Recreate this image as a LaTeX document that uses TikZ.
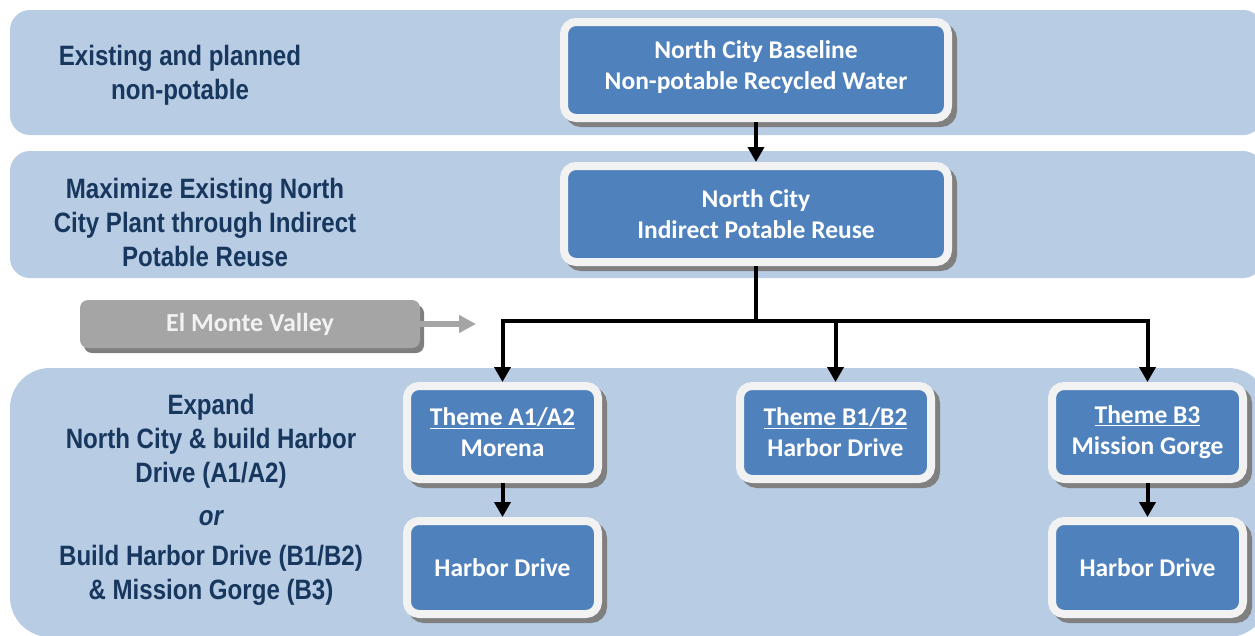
\documentclass[tikz,border=0pt]{standalone}
\usepackage{fontspec}
\newfontfamily\narrowfont[FakeStretch=0.86]{Liberation Sans}
\newfontfamily\boxfont{Carlito}
\usetikzlibrary{positioning,arrows.meta,shadows}
\definecolor{bandblue}{HTML}{B8CCE4}
\definecolor{boxblue}{HTML}{4F81BD}
\definecolor{boxrim}{HTML}{F2F2F2}
\definecolor{shadowgray}{HTML}{808080}
\definecolor{tiertext}{HTML}{17375E}
\definecolor{sidegray}{HTML}{A5A5A5}
\definecolor{sideshadow}{HTML}{7F7F7F}

\begin{document}
\begin{tikzpicture}[
  x=1pt, y=-1pt,
  band/.style={fill=bandblue, rounded corners=20pt},
  tier/.style={font=\narrowfont\bfseries\fontsize{28}{34}\selectfont, text=tiertext, align=center},
  box/.style={draw=boxrim, line width=8pt, fill=boxblue, rounded corners=12pt, text=white, align=center,
    inner sep=0pt, font=\boxfont\bfseries\fontsize{25.5}{31}\selectfont,
    drop shadow={shadow xshift=5pt, shadow yshift=-5pt, fill=shadowgray, draw=shadowgray, line width=8pt, opacity=1}},
  wide/.style={box, minimum width=384pt, minimum height=96pt},
  theme/.style={box, minimum width=191pt, minimum height=93pt},
  side/.style={fill=sidegray, rounded corners=8pt, text=boxrim, inner sep=0pt,
    font=\boxfont\bfseries\fontsize{26}{30}\selectfont, minimum width=340pt, minimum height=48pt,
    drop shadow={shadow xshift=4pt, shadow yshift=-5pt, fill=sideshadow, opacity=1}},
  flow/.style={-{Triangle[length=15pt, width=16pt]}, line width=4pt},
  link/.style={line width=4pt},
  hint/.style={-{Triangle[length=17pt, width=17pt]}, line width=6pt, sidegray}
]
\clip (0,0) rectangle (1255,635);
% ---- Bands ----
\fill[band] (10,10) rectangle (1263,135);
\fill[band] (10,151) rectangle (1263,278);
\fill[band, rounded corners=40pt] (10,368) rectangle (1268,637);
% ---- Tier labels ----
\node[tier] (t1) at (180,75) {Existing and planned\\non-potable};
\node[tier] (t2) at (205,222) {Maximize Existing North\\City Plant through Indirect\\Potable Reuse};
\node[tier] (t3) at (211,500) {Expand\\North City \& build Harbor\\Drive (A1/A2)\\[9pt]
  {\itshape or}\\[6pt]Build Harbor Drive (B1/B2)\\\& Mission Gorge (B3)};
% ---- North City chain ----
\node[wide] (base) at (756,70) {North City Baseline\\Non-potable Recycled Water\\[-21pt]};
\node[wide, below=40pt of base] (ipr) {North City\\Indirect Potable Reuse};
% ---- Themes ----
\node[theme] (a1) at (502.5,432.5) {\underline{Theme A1/A2}\\Morena};
\node[theme, right=134pt of a1] (b1) {\underline{Theme B1/B2}\\Harbor Drive};
\node[theme, right=113pt of b1] (b3) {\underline{Theme B3}\\Mission Gorge};
\node[theme, below=34pt of a1] (ha) {Harbor Drive};
\node[theme, below=34pt of b3] (hb) {Harbor Drive};
% ---- El Monte Valley ----
\node[side] (elm) at (250,324) {El Monte Valley};
\coordinate (elmend) at (476,324);
% ---- Connectors ----
\coordinate (split) at (756,321);
\draw[flow] (base) -- (ipr);
\draw[link] (ipr) -- (split);
\draw[flow] (split) -| (a1);
\draw[flow] (split) -| (b1);
\draw[flow] (split) -| (b3);
\draw[flow] (a1) -- (ha);
\draw[flow] (b3) -- (hb);
\draw[hint] (elm) -- (elmend);
\end{tikzpicture}
\end{document}
